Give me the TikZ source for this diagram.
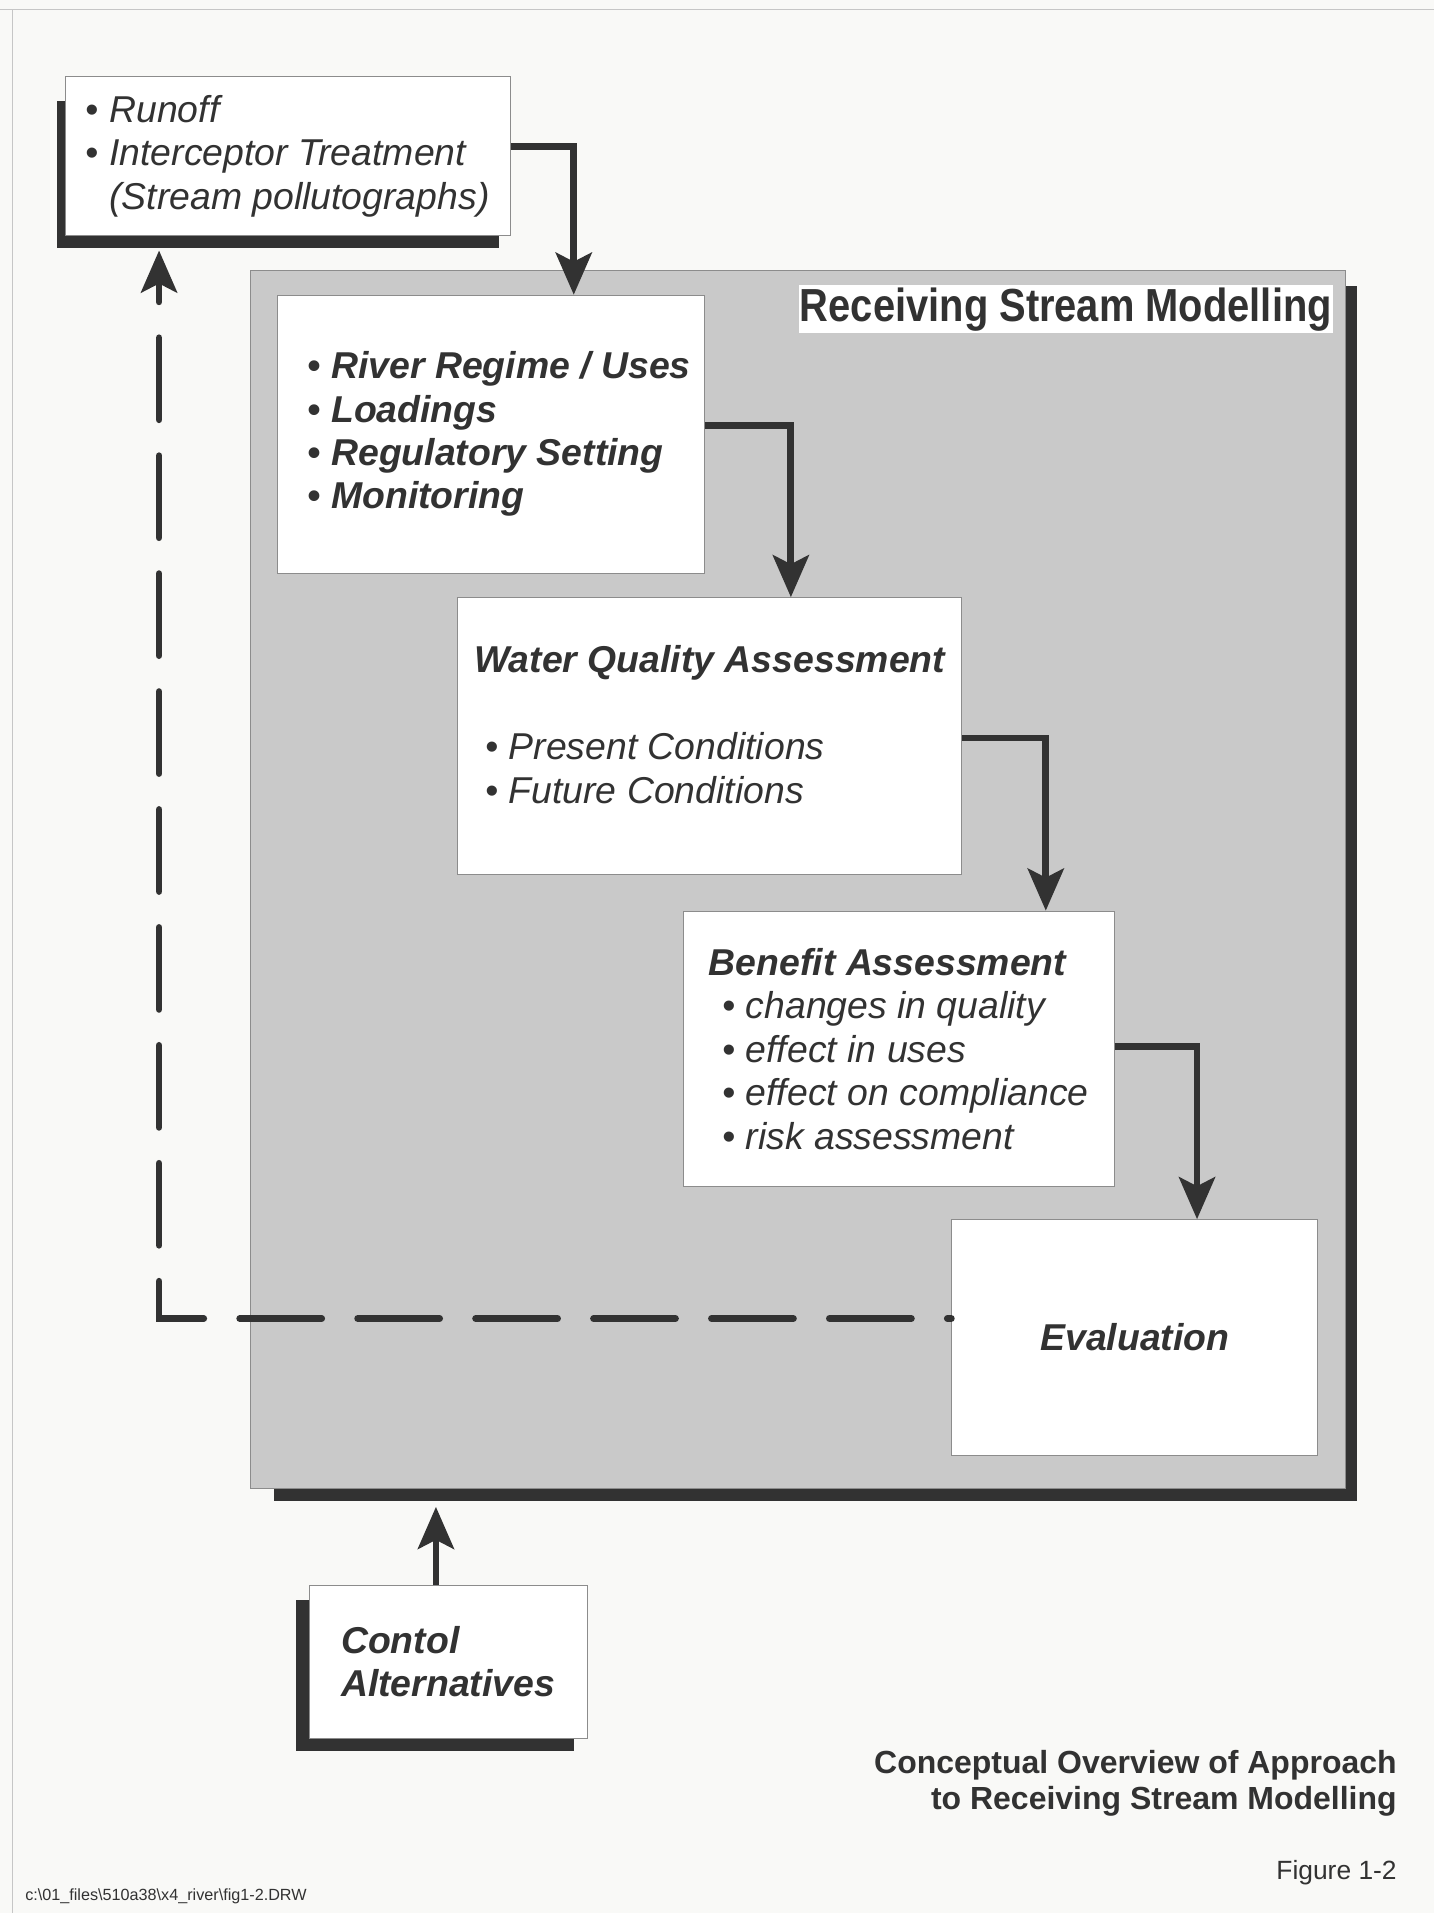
\documentclass[tikz,border=0pt]{standalone}
\usepackage{fontspec}
\setmainfont{Liberation Sans}
\newfontfamily\narrowfont[FakeStretch=0.86]{Liberation Sans}
\usetikzlibrary{arrows.meta, calc, positioning}
\definecolor{ink}{RGB}{50,50,50}
\definecolor{edge}{RGB}{140,140,140}
\definecolor{streamgray}{RGB}{201,201,201}
\definecolor{paper}{RGB}{249,249,247}
\newcommand{\boxfont}{\fontsize{18.7}{21.7}\selectfont}
\pgfdeclarelayer{back}
\pgfsetlayers{back,main}
\tikzstyle{card}=[rectangle, draw=edge, line width=0.5pt, fill=white, align=left, text=ink, inner sep=0pt, font=\boxfont\itshape]
\tikzstyle{cardbold}=[card, font=\boxfont\bfseries\itshape]
\tikzstyle{region}=[rectangle, draw=edge, line width=0.5pt, fill=streamgray]
\tikzstyle{shadowbar}=[fill=ink]
\tikzstyle{arrow}=[line width=3.4pt, draw=ink, -{Stealth[length=21pt, width=18pt, inset=4.5pt]}]
\tikzstyle{arrow'}=[arrow, line cap=round, dash pattern=on 41pt off 18pt, dash phase=39pt]

\begin{document}
\begin{tikzpicture}[x=0.6102pt, y=-0.6102pt]
		\node[region, minimum width=548pt, minimum height=609pt](stream) at (654,721){};
		\node[fill=white, text=ink, inner xsep=0.5pt, inner ysep=1pt, font=\narrowfont\bfseries\fontsize{23.2}{26}\selectfont](title) at (873.5,253.5){Receiving Stream Modelling};
		
		\node(runoff)[card, minimum width=222.7pt, minimum height=79.3pt] at (235.5,128){• Runoff\\• Interceptor Treatment\\\hphantom{•~}(Stream pollutographs)};
		\node(inputs)[cardbold, minimum width=213.6pt, minimum height=139.1pt] at (402,356){\hspace*{8.5pt}• River Regime / Uses\\\hspace*{8.5pt}• Loadings\\\hspace*{8.5pt}• Regulatory Setting\\\hspace*{8.5pt}• Monitoring};
		\node(wqa)[card, minimum width=252pt, minimum height=138.5pt] at (581.5,603.5){{\bfseries Water Quality Assessment}\\[21.7pt]\hspace*{5.5pt}• Present Conditions\\\hspace*{5.5pt}• Future Conditions\rule[-11.6pt]{0pt}{11.6pt}};
		\node(benefit)[card, minimum width=215.4pt, minimum height=137.9pt] at (736.5,860){{\bfseries Benefit Assessment}\\\hspace*{6.7pt}• changes in quality\\\hspace*{6.7pt}• effect in uses\\\hspace*{6.7pt}• effect on compliance\\\hspace*{6.7pt}• risk assessment};
		\node(evaluation)[cardbold, align=center, minimum width=183.1pt, minimum height=117.8pt] at (930,1096.5){Evaluation};
		\node(control)[cardbold, minimum width=139.1pt, minimum height=76.3pt] at (367,1362.5){Contol\\Alternatives};
		
		\node(caption)[anchor=east, align=right, inner sep=0pt, text=ink, font=\bfseries\fontsize{16}{18.3}\selectfont] at (1145,1462){Conceptual Overview of Approach\\to Receiving Stream Modelling};
		\node(figno)[anchor=east, inner sep=0pt, text=ink, font=\fontsize{13.2}{15}\selectfont] at (1145,1535){Figure 1-2};
		\node(drw)[anchor=west, inner sep=0pt, text=ink, font=\fontsize{8.1}{10}\selectfont] at (20,1555){c:\textbackslash 01\_files\textbackslash 510a38\textbackslash x4\_river\textbackslash fig1-2.DRW};
		
		% paper, frame and drop shadows
		\begin{pgfonlayer}{back}
			\fill[paper] (0,0) rectangle (1175,1568);
			\draw[edge!50, line width=0.5pt] (0,8) -- (1175,8) (10,8) -- (10,1568);
			\fill[shadowbar] ($(runoff.north west)+(-6,20)$) rectangle ($(runoff.south east)+(-10,10)$);
			\fill[shadowbar] ($(stream.north west)+(20,13)$) rectangle ($(stream.south east)+(9,10)$);
			\fill[shadowbar] ($(control.north west)+(-10,12)$) rectangle ($(control.south east)+(-11,10)$);
		\end{pgfonlayer}
		
		\draw[arrow] ($(runoff.east)+(0,-8)$) -| ($(inputs.north)+(68,0)$);
		\draw[arrow] ($(inputs.east)+(0,-7)$) -| ($(wqa.north)+(66.5,0)$);
		\draw[arrow] ($(wqa.east)+(0,1.5)$) -| ($(benefit.north)+(120.5,0)$);
		\draw[arrow] ($(benefit.east)+(0,-2)$) -| ($(evaluation.north)+(51,0)$);
		\coordinate (cin) at ($(control.north)+(-10,0)$);
		\draw[arrow] (cin) -- ($(cin |- stream.south)+(0,15)$);
		\draw[arrow'] ($(evaluation.west)+(0,-15.5)$) -| ($(runoff.south)+(-105.5,12)$);
	\end{tikzpicture}
\end{document}
